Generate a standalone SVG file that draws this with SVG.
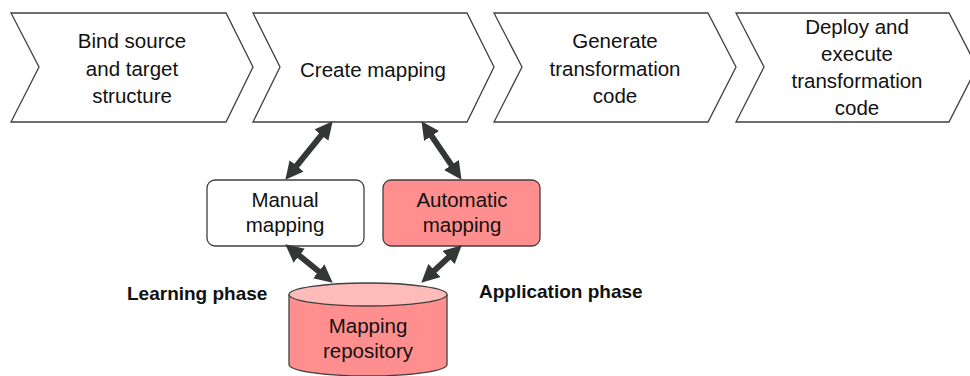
<svg xmlns="http://www.w3.org/2000/svg" width="970" height="376" viewBox="0 0 970 376">
  <style>
    .step { fill: #ffffff; stroke: #404040; stroke-width: 1.3; }
    .box { stroke: #404040; stroke-width: 1.3; }
    .plain { fill: #ffffff; }
    .auto { fill: #ff8f8f; }
    .label { font-family: "Liberation Sans", Arial, sans-serif; font-size: 20.5px; fill: #111111; text-anchor: middle; }
    .phase { font-family: "Liberation Sans", Arial, sans-serif; font-size: 19px; font-weight: bold; fill: #111111; }
    .link { fill: none; stroke: #333836; stroke-width: 6; marker-start: url(#head); marker-end: url(#head); }
  </style>
  <defs>
    <marker id="head" markerUnits="userSpaceOnUse" markerWidth="18" markerHeight="18" viewBox="0 0 18 18" refX="5" refY="9" orient="auto-start-reverse">
      <path d="M0,0 L18,9 L0,18 z" fill="#333836"/>
    </marker>
  </defs>

  <!-- process steps -->
  <g id="step-bind">
    <polygon class="step" points="11,13 226,13 253,67 226,122 11,122 39,67"/>
    <text class="label" x="132" y="48">Bind source</text>
    <text class="label" x="132" y="76">and target</text>
    <text class="label" x="132" y="103">structure</text>
  </g>
  <g id="step-create">
    <polygon class="step" points="253,13 467,13 494,67 467,122 253,122 280,67"/>
    <text class="label" x="373" y="77">Create mapping</text>
  </g>
  <g id="step-generate">
    <polygon class="step" points="494,13 708,13 736,67 708,122 494,122 522,67"/>
    <text class="label" x="615" y="48">Generate</text>
    <text class="label" x="615" y="76">transformation</text>
    <text class="label" x="615" y="103">code</text>
  </g>
  <g id="step-deploy">
    <polygon class="step" points="736,13 949,13 977,67 949,122 736,122 764,67"/>
    <text class="label" x="857" y="34">Deploy and</text>
    <text class="label" x="857" y="61">execute</text>
    <text class="label" x="857" y="88">transformation</text>
    <text class="label" x="857" y="115">code</text>
  </g>

  <!-- mapping modes -->
  <g id="manual-mapping">
    <rect class="box plain" x="207" y="180" width="157" height="66" rx="8"/>
    <text class="label" x="285" y="207">Manual</text>
    <text class="label" x="285" y="232">mapping</text>
  </g>
  <g id="automatic-mapping">
    <rect class="box auto" x="383" y="180" width="157" height="66" rx="8"/>
    <text class="label" x="462" y="207">Automatic</text>
    <text class="label" x="462" y="232">mapping</text>
  </g>

  <!-- repository cylinder -->
  <g id="mapping-repository">
    <path class="box auto" d="M289,294.5 L289,364.5 A79,11.5 0 0 0 447,364.5 L447,294.5"/>
    <ellipse class="box" cx="368" cy="294.5" rx="79" ry="11.5" fill="#ffbaba"/>
    <text class="label" x="368" y="333">Mapping</text>
    <text class="label" x="368" y="358">repository</text>
  </g>

  <!-- phase captions -->
  <g id="phase-labels">
    <text class="phase" x="127" y="300">Learning phase</text>
    <text class="phase" x="479" y="298">Application phase</text>
  </g>

  <!-- bidirectional connectors -->
  <g id="connectors">
    <path class="link" d="M324.5,131.3 L293.5,169.7"/>
    <path class="link" d="M428.8,131.9 L454.2,169.1"/>
    <path class="link" d="M295.4,252.5 L322.6,274.5"/>
    <path class="link" d="M452.2,254.1 L430.8,273.9"/>
  </g>
</svg>
